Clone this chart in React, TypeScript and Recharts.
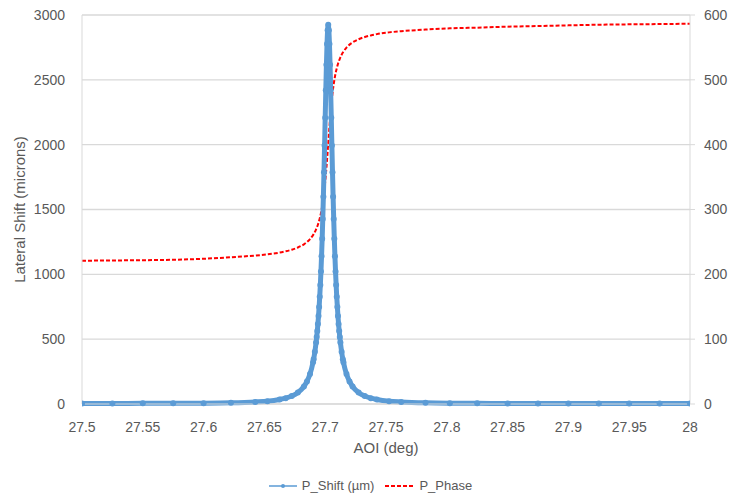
import React from 'react';
import { LineChart, Line, XAxis, YAxis, CartesianGrid, Legend } from 'recharts';

const aoi = [
  27.5, 27.525, 27.55, 27.575, 27.6, 27.6225, 27.6425, 27.6525, 27.6625, 27.6675,
  27.6725, 27.6775, 27.6825, 27.685, 27.6875, 27.69, 27.6905, 27.6915, 27.6925, 27.693,
  27.6935, 27.694, 27.6945, 27.695, 27.6955, 27.696, 27.6965, 27.697, 27.6975, 27.698,
  27.6985, 27.699, 27.6995, 27.7, 27.7005, 27.701, 27.7015, 27.702, 27.7025, 27.703,
  27.7035, 27.704, 27.7045, 27.705, 27.7055, 27.706, 27.7065, 27.707, 27.7075, 27.708,
  27.7085, 27.709, 27.7095, 27.71, 27.7105, 27.711, 27.7115, 27.712, 27.7125, 27.7135,
  27.7145, 27.715, 27.7175, 27.72, 27.7225, 27.7275, 27.7325, 27.7375, 27.7425, 27.7525,
  27.7625, 27.7825, 27.8025, 27.825, 27.85, 27.875, 27.9, 27.925, 27.95, 27.975, 28.0,
];

const pShift = [
  4, 4, 5, 5, 6, 9, 16, 22, 35, 45,
  61, 88, 135, 174, 231, 322, 346, 403, 474, 516,
  563, 617, 678, 748, 827, 918, 1021, 1140, 1274, 1427,
  1599, 1788, 1993, 2207, 2420, 2616, 2776, 2883, 2925, 2883,
  2776, 2616, 2420, 2207, 1993, 1788, 1599, 1427, 1274, 1140,
  1021, 918, 827, 748, 678, 617, 563, 516, 474, 403,
  346, 322, 231, 174, 135, 88, 61, 45, 35, 22,
  16, 9, 6, 5, 4, 4, 3, 3, 3, 3, 3,
];

const pPhase = [
  221.0, 221.4, 221.8, 222.5, 224.0, 226.4, 229.0, 230.8, 233.5, 235.5,
  238.0, 241.4, 246.3, 249.7, 254.3, 260.5, 262.0, 265.3, 269.3, 271.5,
  273.9, 276.5, 279.4, 282.6, 286.1, 290.0, 294.4, 299.2, 304.6, 310.6,
  317.3, 324.9, 333.3, 342.8, 353.1, 364.3, 376.4, 389.0, 402.0, 415.0,
  427.6, 439.7, 450.9, 461.3, 470.7, 479.1, 486.7, 493.4, 499.4, 504.8,
  509.6, 514.0, 517.9, 521.4, 524.6, 527.5, 530.1, 532.5, 534.7, 538.7,
  542.0, 543.5, 549.7, 554.3, 557.7, 562.6, 566.0, 568.5, 570.5, 573.2,
  575.0, 577.6, 579.4, 580.5, 582.0, 583.0, 584.0, 585.0, 585.6, 586.0, 586.5,
];

const xTicks = [27.5, 27.55, 27.6, 27.65, 27.7, 27.75, 27.8, 27.85, 27.9, 27.95, 28];
const leftTicks = [0, 500, 1000, 1500, 2000, 2500, 3000];
const rightTicks = [0, 100, 200, 300, 400, 500, 600];

const shiftName = 'P_Shift (µm)';
const phaseName = 'P_Phase';

const data = aoi.map((x, i) => ({ aoi: x, shift: pShift[i], phase: pPhase[i] }));

const BLUE = '#5B9BD5';
const RED = '#FF0000';
const GRID = '#D9D9D9';
const TEXT = '#595959';
const FONT = '"Liberation Sans", Arial, sans-serif';

const fmtX = (v: number) => String(Number(v.toFixed(2)));

const LegendContent = () => (
  <div
    style={{
      display: 'flex',
      justifyContent: 'center',
      alignItems: 'center',
      height: 22,
      lineHeight: '22px',
      fontFamily: FONT,
      fontSize: 13,
      color: TEXT,
      paddingRight: 18,
    }}
  >
    <span style={{ display: 'flex', alignItems: 'center', marginRight: 11 }}>
      <svg width={28} height={10} style={{ marginRight: 5 }}>
        <line x1={0} y1={5} x2={28} y2={5} stroke={BLUE} strokeWidth={1.5} />
        <circle cx={14} cy={5} r={2} fill={BLUE} />
      </svg>
      {shiftName}
    </span>
    <span style={{ display: 'flex', alignItems: 'center' }}>
      <svg width={30} height={10} style={{ marginRight: 4 }}>
        <line x1={0} y1={5} x2={30} y2={5} stroke={RED} strokeWidth={2} strokeDasharray="4 2" />
      </svg>
      {phaseName}
    </span>
  </div>
);

export default function App() {
  return (
    <div style={{ position: 'absolute', left: 0, top: 0, width: 745, height: 498, background: '#fff' }}>
      <LineChart
        width={745}
        height={498}
        data={data}
        margin={{ top: 15, right: 0, bottom: 1, left: 14 }}
      >
        <CartesianGrid yAxisId="left" vertical={false} stroke={GRID} strokeWidth={1.3} />
        <XAxis
          dataKey="aoi"
          type="number"
          domain={[27.5, 28]}
          ticks={xTicks}
          tickFormatter={fmtX}
          allowDataOverflow
          height={71}
          stroke={GRID}
          tickLine={false}
          tickSize={6}
          tickMargin={12}
          tick={{ fill: TEXT, fontSize: 14, fontFamily: FONT }}
          label={{ value: 'AOI (deg)', position: 'insideTop', offset: 38, fill: TEXT, fontSize: 15, fontFamily: FONT }}
        />
        <YAxis
          yAxisId="left"
          domain={[0, 3000]}
          ticks={leftTicks}
          width={68}
          stroke={GRID}
          tickLine={false}
          tickSize={6}
          tickMargin={11}
          tick={{ fill: TEXT, fontSize: 14, fontFamily: FONT }}
          label={{
            value: 'Lateral Shift (microns)',
            angle: -90,
            position: 'insideLeft',
            offset: 6,
            style: { textAnchor: 'middle' },
            fill: TEXT,
            fontSize: 15,
            fontFamily: FONT,
          }}
        />
        <YAxis
          yAxisId="right"
          orientation="right"
          domain={[0, 600]}
          ticks={rightTicks}
          width={55}
          stroke={GRID}
          tickLine={{ stroke: GRID }}
          tickSize={5}
          tickMargin={9}
          tick={{ fill: TEXT, fontSize: 14, fontFamily: FONT }}
        />
        <Legend verticalAlign="bottom" content={<LegendContent />} />
        <Line
          yAxisId="right"
          type="monotone"
          dataKey="phase"
          name={phaseName}
          stroke={RED}
          strokeWidth={2}
          strokeDasharray="4 2"
          dot={false}
          isAnimationActive={false}
        />
        <Line
          yAxisId="left"
          type="monotone"
          dataKey="shift"
          name={shiftName}
          stroke={BLUE}
          strokeWidth={5}
          dot={{ r: 3, fill: BLUE, stroke: BLUE, strokeWidth: 0 }}
          isAnimationActive={false}
        />
      </LineChart>
    </div>
  );
}
